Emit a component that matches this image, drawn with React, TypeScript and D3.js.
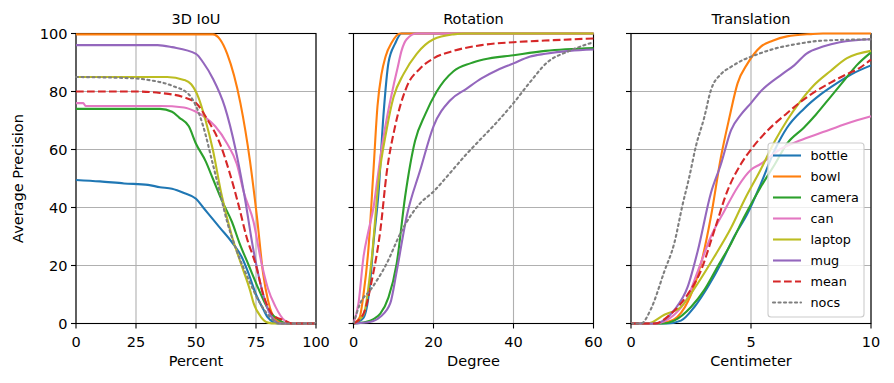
import React from 'react';
import * as d3 from 'd3';

type P = [number, number];

const seriesNames = ['bottle', 'bowl', 'camera', 'can', 'laptop', 'mug', 'mean', 'nocs'];
const seriesColors = ['#1f77b4', '#ff7f0e', '#2ca02c', '#e377c2', '#bcbd22', '#9467bd', '#d62728', '#7f7f7f'];
const seriesDash = ['', '', '', '', '', '', '7.7,3.3', '2.1,3.4'];

const panelTitles = ['3D IoU', 'Rotation', 'Translation'];
const panelXLabels = ['Percent', 'Degree', 'Centimeter'];
const panelXMax = [100, 60, 10];
const panelXTicks = [[0, 25, 50, 75, 100], [0, 20, 40, 60], [0, 5, 10]];
const yTicks = [0, 20, 40, 60, 80, 100];
const yLabel = 'Average Precision';

// ---- 3D IoU ----
const iouBottle: P[] = [[0, 49.5], [10, 49], [20, 48.3], [30, 47.8], [35, 47], [40, 46.5], [45, 45], [50, 43], [53, 40], [57, 36], [60, 33], [65, 28], [69, 23], [72, 17], [75, 10], [78, 5], [80, 2], [84, 0], [100, 0]];
const iouBowl: P[] = [[0, 99.7], [57, 99.7], [60, 98], [63, 93], [68.5, 76], [72.5, 56], [75.5, 36], [78, 17], [80, 8], [83.5, 1], [87, 0], [100, 0]];
const iouCamera: P[] = [[0, 74], [35, 74], [40, 73], [43, 71], [47, 68], [50, 62], [54, 56], [57, 50], [61, 42], [65, 35], [68, 28], [72, 20], [76, 12], [80, 5], [85, 1], [88, 0], [100, 0]];
const iouCan: P[] = [[0, 76], [3, 76], [4, 75], [35, 75], [45, 74.5], [50, 73], [54, 71], [58, 68], [63, 62], [67, 55], [70, 45], [74, 35], [77, 22], [80, 12], [83, 6], [87, 1], [90, 0], [100, 0]];
const iouLaptop: P[] = [[0, 85], [38, 85], [45, 84], [48, 82.5], [51, 78], [54, 70], [57, 60], [60.5, 45], [65, 30], [69, 20], [72.5, 11.5], [74, 7], [77, 2.3], [80, 0.3], [83, 0], [100, 0]];
const iouMug: P[] = [[0, 96], [34, 96], [40, 95.3], [50, 93], [53, 90], [57, 84.5], [62, 74.7], [66.5, 60], [70, 45], [74, 25], [78, 10], [81, 3], [85, 0], [100, 0]];
const iouMean: P[] = [[0, 80], [25, 80], [35, 79.5], [45, 78], [50, 76], [55, 70], [60, 62], [64, 52], [68, 40], [71, 30], [75, 20], [78, 10], [82, 3], [87, 1], [90, 0], [100, 0]];
const iouNocs: P[] = [[0, 85], [25, 84.5], [30, 84], [40, 82], [47, 79], [50, 75], [53, 68], [57, 55], [60, 45], [63, 35], [67, 25], [72, 15], [76, 8], [80, 3], [85, 0], [100, 0]];

// ---- Rotation ----
const rotBottle: P[] = [[0, 0], [2.5, 2], [4, 12], [5, 28], [6.25, 45], [7.5, 72], [8.75, 90], [10.4, 96.5], [12, 100], [60, 100]];
const rotBowl: P[] = [[0, 0], [1.5, 2], [2.5, 10], [3.75, 26], [5, 53], [6, 75], [7, 86], [8, 92], [9.6, 97], [11.7, 100], [60, 100]];
const rotCamera: P[] = [[0, 0], [3, 0.5], [5, 1.5], [6.7, 3.4], [8.75, 9], [10.8, 20.7], [12.9, 43.7], [15.4, 63], [17.9, 72], [20.8, 80], [25, 87], [29.2, 89.7], [32.5, 91], [40, 92.5], [48, 94], [60, 95]];
const rotCan: P[] = [[0, 0], [1.25, 7], [2.5, 23], [3.75, 32], [5, 40], [6, 50], [7, 60], [8.5, 72], [10, 82], [11, 88], [12, 94], [13.3, 98], [15.8, 100], [60, 100]];
const rotLaptop: P[] = [[0, 0], [2.5, 3], [4.6, 23], [6.25, 49], [8.3, 67], [10, 78], [12.5, 86], [15.8, 93], [20, 98], [25, 99.7], [28, 100], [60, 100]];
const rotMug: P[] = [[0, 0], [4, 0.5], [6.7, 2.3], [9.2, 7], [10.8, 18], [13.3, 37], [16.7, 53], [20, 68], [24.2, 77], [28.3, 81], [32, 84.5], [36, 87.4], [40, 89.7], [44, 92], [48, 93], [54, 94], [60, 94.5]];
const rotMean: P[] = [[0, 0], [2.5, 3.4], [4.6, 15], [6.7, 32], [8.3, 52], [10.4, 68], [13.3, 81.6], [16.7, 88], [20, 91.4], [25, 94], [32, 96], [40, 97], [50, 97.7], [60, 98.3]];
const rotNocs: P[] = [[0, 0], [1.7, 7], [4.2, 11.5], [8.3, 20.7], [11.7, 31], [14.2, 37], [16.7, 41.5], [20, 45.5], [24.2, 52], [28.3, 58.5], [31.75, 63.5], [35.9, 69.5], [40, 76], [44, 83], [48.4, 90], [54, 94], [60, 97]];

// ---- Translation ----
const trBottle: P[] = [[0, 0], [1.5, 0], [2.08, 1], [2.64, 5.7], [3.2, 12.6], [3.75, 20.7], [4.3, 30], [4.86, 38], [5.4, 48], [6, 60], [6.5, 67.5], [7.2, 74], [7.9, 79], [8.6, 83], [9.2, 86], [10, 89]];
const trBowl: P[] = [[0, 0], [1, 0], [1.5, 0.5], [1.94, 2.3], [2.5, 10], [2.92, 20.7], [3.33, 36.8], [3.75, 57.5], [4.1, 71], [4.44, 82.8], [4.86, 89.7], [5.4, 95.4], [5.9, 97.5], [6.5, 99], [7.5, 99.8], [8, 100], [10, 100]];
const trCamera: P[] = [[0, 0], [1.3, 0], [1.8, 1], [2.5, 5.7], [3.05, 11.5], [3.6, 19.5], [4.17, 27.6], [4.72, 36.8], [5.4, 47], [6, 55], [6.5, 62], [7.2, 67.5], [7.7, 72], [8.3, 78], [8.9, 84], [9.4, 89], [10, 93.5]];
const trCan: P[] = [[0, 0], [1, 0], [1.8, 3], [2.36, 9], [2.78, 18], [3.33, 30], [3.9, 39], [4.44, 47], [5, 53], [5.4, 55], [6.2, 60], [7, 63], [8, 66], [9, 69], [10, 71.5]];
const trLaptop: P[] = [[0, 0], [0.7, 0], [1.39, 3], [2.08, 5.7], [2.78, 13.8], [3.47, 23], [4.17, 33], [4.72, 42.5], [5.4, 53], [6, 63], [6.5, 70], [7, 76], [7.6, 82], [8.3, 87], [9, 91.5], [10, 94]];
const trMug: P[] = [[0, 0], [1, 0], [1.8, 4.6], [2.36, 12.6], [2.78, 25], [3.33, 45], [3.75, 55], [4.17, 66.7], [4.58, 72], [5, 76], [5.4, 80], [6.3, 86], [6.8, 89], [7.3, 93], [8, 95.5], [8.7, 97], [10, 98]];
const trMean: P[] = [[0, 0], [1, 0], [1.67, 3.4], [2.36, 10], [2.9, 18], [3.47, 32], [4.03, 46], [4.58, 55], [5, 60], [5.4, 64], [6, 69], [6.5, 72.5], [7, 76], [7.5, 79], [8.3, 83], [9, 86], [9.5, 88], [10, 91]];
const trNocs: P[] = [[0, 0], [0.42, 0], [0.83, 5], [1.39, 18], [1.8, 27.6], [2.15, 41], [2.43, 50.6], [2.7, 61], [3.05, 71], [3.33, 80.5], [3.75, 86], [4.17, 88.5], [4.7, 91], [5, 92], [6, 94.8], [7, 96.5], [7.9, 97.5], [10, 98]];

const panelSeries: P[][][] = [
  [iouBottle, iouBowl, iouCamera, iouCan, iouLaptop, iouMug, iouMean, iouNocs],
  [rotBottle, rotBowl, rotCamera, rotCan, rotLaptop, rotMug, rotMean, rotNocs],
  [trBottle, trBowl, trCamera, trCan, trLaptop, trMug, trMean, trNocs],
];

const W = 894;
const H = 383;
const panelLeft = [76, 353.5, 631];
const panelWidth = 240;
const top = 33.5;
const bottom = 323.5;
const FONT = '"DejaVu Sans", sans-serif';
const FS = 14.5;
const LW = 2.1;
const GRID = '#b0b0b0';

export default function App() {
  const y = d3.scaleLinear().domain([0, 100]).range([bottom, top]);
  return (
    <svg width={W} height={H} style={{ position: 'absolute', left: 0, top: 0, background: '#fff' }} fontFamily={FONT}>
      <rect x={0} y={0} width={W} height={H} fill="#fff" />
      {panelTitles.map((title, pi) => {
        const x = d3.scaleLinear().domain([0, panelXMax[pi]]).range([panelLeft[pi], panelLeft[pi] + panelWidth]);
        const line = d3.line<P>().x((d) => x(d[0])).y((d) => y(d[1])).curve(d3.curveMonotoneX);
        const cx = panelLeft[pi] + panelWidth / 2;
        return (
          <g key={pi}>
            {panelXTicks[pi].map((t) => (
              <line key={'gx' + t} x1={x(t)} x2={x(t)} y1={top} y2={bottom} stroke={GRID} strokeWidth={1.1} />
            ))}
            {yTicks.map((t) => (
              <line key={'gy' + t} x1={panelLeft[pi]} x2={panelLeft[pi] + panelWidth} y1={y(t)} y2={y(t)} stroke={GRID} strokeWidth={1.1} />
            ))}
            <rect x={panelLeft[pi]} y={top} width={panelWidth} height={bottom - top} fill="none" stroke="#000" strokeWidth={1.1} />
            {panelSeries[pi].map((s, si) => (
              <path
                key={si}
                d={line(s) || ''}
                fill="none"
                stroke={seriesColors[si]}
                strokeWidth={LW}
                strokeDasharray={seriesDash[si] || undefined}
                strokeLinecap={si === 7 ? 'round' : 'butt'}
                strokeLinejoin="round"
              />
            ))}
            {panelXTicks[pi].map((t) => (
              <g key={'tx' + t}>
                <line x1={x(t)} x2={x(t)} y1={bottom} y2={bottom + 5} stroke="#000" strokeWidth={1.1} />
                <text x={x(t)} y={347} textAnchor="middle" fontSize={FS} fill="#000">{t}</text>
              </g>
            ))}
            {yTicks.map((t) => (
              <g key={'ty' + t}>
                <line x1={panelLeft[pi] - 5} x2={panelLeft[pi]} y1={y(t)} y2={y(t)} stroke="#000" strokeWidth={1.1} />
                {pi === 0 && (
                  <text x={panelLeft[pi] - 8.5} y={y(t) + 5.3} textAnchor="end" fontSize={FS} fill="#000">{t}</text>
                )}
              </g>
            ))}
            <text x={cx} y={24} textAnchor="middle" fontSize={FS} fill="#000">{title}</text>
            <text x={cx} y={366} textAnchor="middle" fontSize={FS} fill="#000">{panelXLabels[pi]}</text>
          </g>
        );
      })}
      <text transform={`translate(22.5,${(top + bottom) / 2}) rotate(-90)`} textAnchor="middle" fontSize={FS} fill="#000">{yLabel}</text>
      <g>
        <rect x={768} y={143} width={96} height={174} rx={3} ry={3} fill="#fff" fillOpacity={0.8} stroke="#cccccc" strokeWidth={1.1} />
        {seriesNames.map((n, i) => {
          const ly = 155.5 + i * 21;
          return (
            <g key={n}>
              <line x1={773} x2={801} y1={ly} y2={ly} stroke={seriesColors[i]} strokeWidth={LW} strokeDasharray={seriesDash[i] || undefined} strokeLinecap={i === 7 ? 'round' : 'butt'} />
              <text x={810.5} y={ly + 4.6} fontSize={12.8} fill="#000">{n}</text>
            </g>
          );
        })}
      </g>
    </svg>
  );
}
